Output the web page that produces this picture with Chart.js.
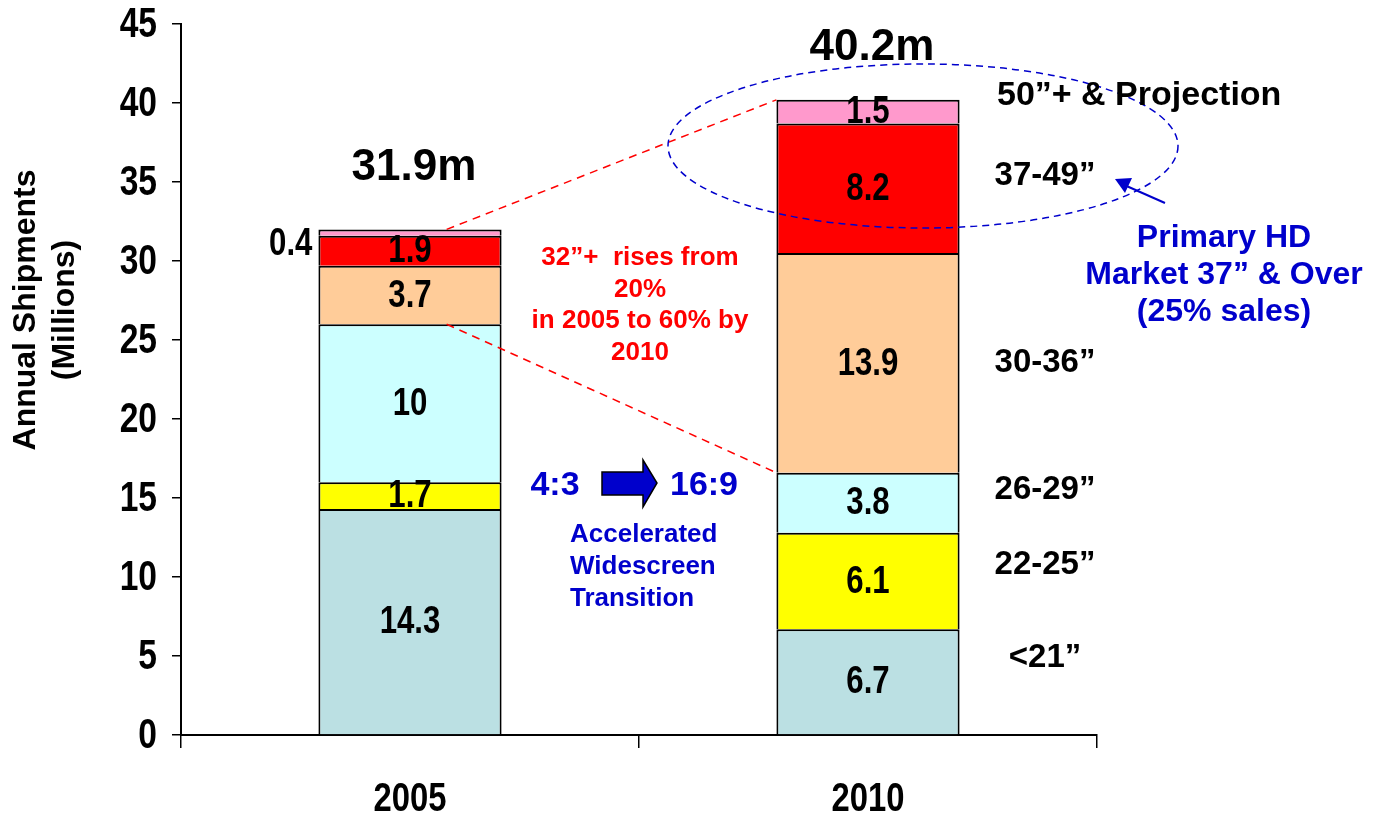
<!DOCTYPE html>
<html lang="en">
<head>
  <meta charset="UTF-8" />
  <title>Annual TV Shipments by Screen Size</title>
  <script src="https://cdn.jsdelivr.net/npm/chart.js"></script>
  <style>
    body { margin: 0; background: #fff; }
    canvas { display: block; }
  </style>
</head>
<body>
  <canvas id="shipmentsChart" width="1378" height="819"></canvas>

  <script>
// data (millions of units)
const years = ['2005', '2010'];
const bandNames = ['<21\u201d', '22-25\u201d', '26-29\u201d', '30-36\u201d', '37-49\u201d', '50\u201d+ & Projection'];
const under21 = [14.3, 6.7];
const size22to25 = [1.7, 6.1];
const size26to29 = [10, 3.8];
const size30to36 = [3.7, 13.9];
const size37to49 = [1.9, 8.2];
const size50plus = [0.4, 1.5];
const totalLabels = ['31.9m', '40.2m'];
const yMax = 45;
const yStep = 5;

const bandColors = ['#BBE0E3', '#FFFF00', '#CCFFFF', '#FFCC99', '#FF0000', '#FF99CC'];
const ARIAL = '"Liberation Sans", Arial, sans-serif';
const BLUE = '#0000CC';

// no Arial Narrow here, so squeeze Liberation Sans Bold sideways
function narrowText(ctx, text, x, y, size, align) {
  ctx.save();
  ctx.font = 'bold ' + size + 'px ' + ARIAL;
  ctx.textAlign = align;
  ctx.textBaseline = 'middle';
  ctx.translate(x, y);
  ctx.scale(0.8, 1);
  ctx.fillText(text, 0, 0);
  ctx.restore();
}

function textLines(ctx, lines, x, y0, gap) {
  lines.forEach((t, i) => ctx.fillText(t, x, y0 + i * gap));
}

// axis labels in the condensed face
const axisLabels = {
  id: 'axisLabels',
  afterDraw(chart) {
    const ctx = chart.ctx;
    ctx.fillStyle = '#000';
    const ys = chart.scales.y;
    ys.ticks.forEach(t => narrowText(ctx, String(t.value), ys.right - 24, ys.getPixelForValue(t.value) + 1, 42, 'right'));
    const xs = chart.scales.x;
    chart.data.labels.forEach((lab, i) => narrowText(ctx, lab, xs.getPixelForValue(i), xs.top + 65, 41, 'center'));
  }
};

// value labels, totals, band names and the call-outs
const annotations = {
  id: 'annotations',
  afterDatasetsDraw(chart) {
    const ctx = chart.ctx;
    ctx.save();
    ctx.textBaseline = 'middle';
    ctx.fillStyle = '#000';

    // segment values
    chart.data.datasets.forEach((ds, di) => {
      chart.getDatasetMeta(di).data.forEach((bar, i) => {
        const v = ds.data[i];
        const cy = (bar.y + bar.base) / 2;
        if (v < 1) {
          narrowText(ctx, String(v), bar.x - bar.width / 2 - 6, cy + 12, 39, 'right');
        } else {
          narrowText(ctx, String(v), bar.x, cy + 1, 39, 'center');
        }
      });
    });

    // totals above the stacks
    const topMeta = chart.getDatasetMeta(chart.data.datasets.length - 1);
    const lift = [62, 52];
    ctx.font = 'bold 44px ' + ARIAL;
    ctx.textAlign = 'center';
    topMeta.data.forEach((bar, i) => {
      ctx.fillText(totalLabels[i], bar.x + 4, bar.y - lift[i]);
    });

    // red dashed guide lines 2005 -> 2010
    const b05 = topMeta.data[0], b10 = topMeta.data[1];
    const startX = b05.x - b05.width / 2 + b05.width * 0.70;
    const endX = b10.x - b10.width / 2;
    const mid05 = chart.getDatasetMeta(2).data[0];
    const mid10 = chart.getDatasetMeta(2).data[1];
    ctx.strokeStyle = '#FF0000';
    ctx.lineWidth = 1.5;
    ctx.setLineDash([8, 6]);
    ctx.beginPath();
    ctx.moveTo(startX, b05.y);
    ctx.lineTo(endX, b10.y);
    ctx.moveTo(startX, mid05.y);
    ctx.lineTo(endX, mid10.y);
    ctx.stroke();

    // blue dashed ellipse round the HD segments
    ctx.strokeStyle = BLUE;
    ctx.setLineDash([7, 5]);
    ctx.beginPath();
    ctx.ellipse(923, 146, 255, 82, 0, 0, Math.PI * 2);
    ctx.stroke();
    ctx.setLineDash([]);

    // small blue arrow pointing at the ellipse
    ctx.lineWidth = 2;
    ctx.beginPath();
    ctx.moveTo(1165, 203);
    ctx.lineTo(1122, 184);
    ctx.stroke();
    ctx.fillStyle = BLUE;
    ctx.beginPath();
    ctx.moveTo(1115, 179);
    ctx.lineTo(1132, 178);
    ctx.lineTo(1125, 193);
    ctx.closePath();
    ctx.fill();

    // size band names on the right
    ctx.fillStyle = '#000';
    const bandY = [658, 565, 490, 363, 176, 96];
    bandNames.forEach((name, i) => {
      if (i === bandNames.length - 1) {
        ctx.font = 'bold 34px ' + ARIAL;
        ctx.textAlign = 'left';
        ctx.fillText(name, 997, bandY[i]);
      } else {
        ctx.font = 'bold 33px ' + ARIAL;
        ctx.textAlign = 'center';
        ctx.fillText(name, 1045, bandY[i]);
      }
    });

    // red call-out
    ctx.fillStyle = '#FF0000';
    ctx.font = 'bold 26px ' + ARIAL;
    ctx.textAlign = 'center';
    textLines(ctx, ['32\u201d+  rises from', '20%', 'in 2005 to 60% by', '2010'], 640, 258, 31.6);

    // 4:3 -> 16:9
    ctx.fillStyle = BLUE;
    ctx.font = 'bold 34px ' + ARIAL;
    ctx.fillText('4:3', 555, 486);
    ctx.fillText('16:9', 704, 486);
    ctx.beginPath();
    ctx.moveTo(602, 472);
    ctx.lineTo(643, 472);
    ctx.lineTo(643, 460);
    ctx.lineTo(657, 483);
    ctx.lineTo(643, 507);
    ctx.lineTo(643, 495);
    ctx.lineTo(602, 495);
    ctx.closePath();
    ctx.fill();
    ctx.strokeStyle = '#000';
    ctx.lineWidth = 1.5;
    ctx.stroke();

    ctx.font = 'bold 26px ' + ARIAL;
    ctx.textAlign = 'left';
    textLines(ctx, ['Accelerated', 'Widescreen', 'Transition'], 570, 535, 32);

    ctx.font = 'bold 32px ' + ARIAL;
    ctx.textAlign = 'center';
    textLines(ctx, ['Primary HD', 'Market 37\u201d & Over', '(25% sales)'], 1224, 238, 37);

    // y axis title
    ctx.fillStyle = '#000';
    ctx.font = 'bold 32px ' + ARIAL;
    ctx.translate(0, 310);
    ctx.rotate(-Math.PI / 2);
    ctx.fillText('Annual Shipments', 0, 26);
    ctx.fillText('(Millions)', 0, 65);
    ctx.restore();
  }
};

const ctx = document.getElementById('shipmentsChart').getContext('2d');
const seriesList = [under21, size22to25, size26to29, size30to36, size37to49, size50plus];

new Chart(ctx, {
  type: 'bar',
  data: {
    labels: years,
    datasets: seriesList.map((vals, i) => ({
      label: bandNames[i],
      data: vals,
      backgroundColor: bandColors[i],
      borderColor: '#000',
      borderWidth: 2,
      barPercentage: 0.4,
      categoryPercentage: 1.0
    }))
  },
  options: {
    responsive: false,
    animation: false,
    layout: { padding: { top: 24, right: 281, left: 0, bottom: 0 } },
    plugins: {
      legend: { display: false },
      tooltip: { enabled: false }
    },
    scales: {
      x: {
        stacked: true,
        offset: true,
        grid: { offset: true, drawOnChartArea: false, tickLength: 13, color: '#000', lineWidth: 1.5 },
        border: { color: '#000', width: 2 },
        ticks: { display: false },
        afterFit: s => { s.height = 84; }
      },
      y: {
        stacked: true,
        min: 0,
        max: yMax,
        grid: { drawOnChartArea: false, tickLength: 9, color: '#000', lineWidth: 1.5 },
        border: { color: '#000', width: 2 },
        ticks: { stepSize: yStep, display: false },
        afterFit: s => { s.width = 181; }
      }
    }
  },
  plugins: [annotations, axisLabels]
});
  </script>
</body>
</html>
